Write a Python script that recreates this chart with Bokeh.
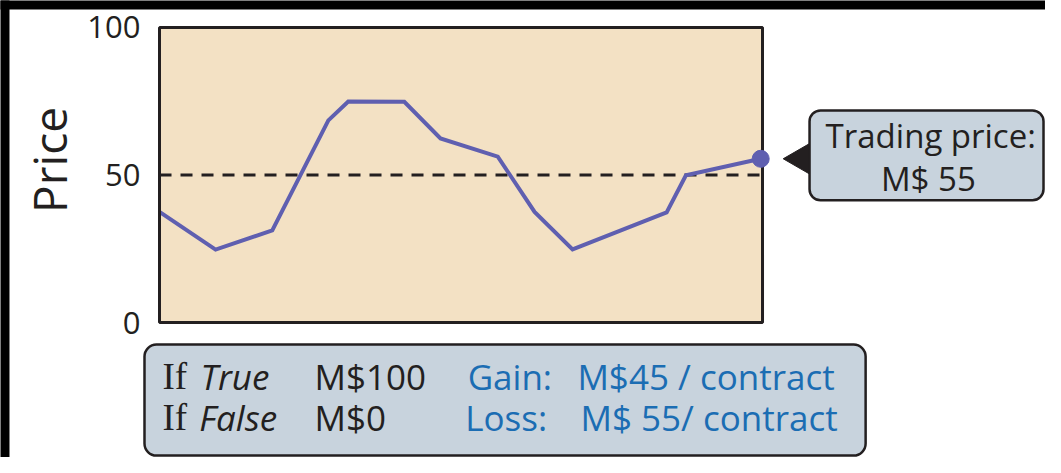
import math
from bokeh.plotting import figure
from bokeh.models import Range1d
from bokeh.embed import file_html
from bokeh.resources import INLINE
from bokeh.core.properties import value

# ---- data ----
time = [0, 9.3, 18.7, 28.0, 31.3, 40.6, 46.6, 56.1, 62.2, 68.5, 84.1, 87.3, 99.7]
price = [37.5, 24.7, 31.2, 68.5, 74.9, 74.8, 62.4, 56.2, 37.5, 24.8, 37.3, 49.9, 55.5]
time_domain = [0, 100]
y_ticks = [0, 50, 100]
y_tick_labels = ["0", "50", "100"]
breakeven = 50
trading_price = 55
payoff_true = 100
payoff_false = 0

INK = "#231f20"
BLUE = "#1b6db3"
LINE = "#5f5fb0"
PANEL = "#f3e1c4"
BOXFILL = "#c8d3dd"
FONT = "Open Sans"

X0, X1 = -26.37, 146.93
Y0, Y1 = -45.76, 109.15

p = figure(width=1045, height=457, output_backend="svg", toolbar_location=None,
           x_range=Range1d(X0, X1), y_range=Range1d(Y0, Y1),
           x_axis_location=None, y_axis_location=None, min_border=0,
           outline_line_color=None, background_fill_color="white",
           border_fill_color="white")
p.xgrid.visible = False
p.ygrid.visible = False

# outer black frame (top and left bars)
p.quad(left=[X0 - 1, X0 - 1], right=[X1 + 1, -24.88], bottom=[106.1, Y0 - 1],
       top=[Y1 + 1, Y1 + 1], fill_color="black", line_color=None)

# chart panel
p.quad(left=[time_domain[0]], right=[time_domain[1]], bottom=[y_ticks[0]], top=[y_ticks[-1]],
       fill_color=PANEL, line_color=None)
# break-even dashed line
p.line(x=time_domain, y=[breakeven, breakeven], line_color=INK, line_width=3, line_dash="12 9")
# price line
p.line(x=time, y=price, line_color=LINE, line_width=4, line_join="miter")
# panel border
p.quad(left=[time_domain[0]], right=[time_domain[1]], bottom=[y_ticks[0]], top=[y_ticks[-1]],
       fill_color=None, line_color=INK, line_width=3)
# current price dot
p.scatter(x=[time[-1]], y=[price[-1]], size=17, fill_color=LINE, line_color=LINE)

# y tick labels and axis title
p.text(x=[-3.15] * len(y_ticks), y=y_ticks, text=y_tick_labels, text_font=value(FONT),
       text_font_size="31px", text_align="right", text_baseline="middle", text_color=INK)
p.text(x=[-18.4], y=[55.1], text=["Price"], angle=math.pi / 2, text_font=value(FONT),
       text_font_size="46px", text_align="center", text_baseline="middle",
       text_color=INK)

# callout
p.scatter(x=[106.4], y=[price[-1]], marker="triangle", angle=math.pi / 2, size=31,
          fill_color=INK, line_color=INK)
p.quad(left=[107.8], right=[146.6], top=[71.9], bottom=[41.4], border_radius=11,
       fill_color=BOXFILL, line_color=INK, line_width=2.5)
p.text(x=[127.9, 127.5], y=[63.5, 48.9],
       text=["Trading price:", f"M$ {trading_price}"],
       text_font=value(FONT), text_font_size="33px", text_align="center",
       text_baseline="middle", text_color=INK)

# payoff box
p.quad(left=[-2.49], right=[117.1], top=[-7.46], bottom=[-45.1], border_radius=12,
       fill_color=BOXFILL, line_color=INK, line_width=2.5)
row_y = [-18.3, -32.2]
p.text(x=[0.5, 0.5], y=row_y, text=["If", "If"], text_font=value("Liberation Serif"),
       text_font_size="37px", text_baseline="middle", text_color=INK)
p.text(x=[6.8, 6.6], y=row_y, text=["True", "False"], text_font=value(FONT),
       text_font_style="italic", text_font_size="35px", text_baseline="middle",
       text_color=INK)
p.text(x=[25.7, 25.7], y=row_y, text=[f"M${payoff_true}", f"M${payoff_false}"],
       text_font=value(FONT), text_font_size="35px", text_baseline="middle",
       text_color=INK)
p.text(x=[51.1, 50.7], y=row_y, text=["Gain:", "Loss:"], text_font=value(FONT),
       text_font_size="35px", text_baseline="middle", text_color=BLUE)
p.text(x=[69.3, 69.8], y=row_y,
       text=[f"M${payoff_true - trading_price} / contract",
             f"M$ {trading_price - payoff_false}/ contract"],
       text_font=value(FONT), text_font_size="35px", text_baseline="middle",
       text_color=BLUE)

open("out.html", "w").write(file_html(p, INLINE))
